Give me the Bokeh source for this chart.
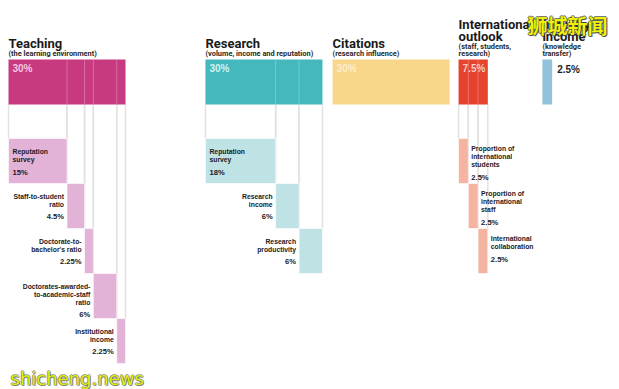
from bokeh.plotting import figure
from bokeh.models import Range1d, ColumnDataSource
from bokeh.core.properties import value
from bokeh.embed import file_html
from bokeh.resources import INLINE

# ---------------- data ----------------
pillars = ["Teaching", "Research", "Citations", "International\noutlook", "Industry\nincome"]
pillar_notes = ["(the learning environment)", "(volume, income and reputation)",
                "(research influence)", "(staff, students,\nresearch)", "(knowledge\ntransfer)"]
pillar_weights = [30, 30, 30, 7.5, 2.5]

teaching_names = ["Reputation\nsurvey", "Staff-to-student\nratio", "Doctorate-to-\nbachelor's ratio",
                  "Doctorates-awarded-\nto-academic-staff\nratio", "Institutional\nincome"]
teaching_weights = [15, 4.5, 2.25, 6, 2.25]
research_names = ["Reputation\nsurvey", "Research\nincome", "Research\nproductivity"]
research_weights = [18, 6, 6]
intl_names = ["Proportion of\ninternational\nstudents", "Proportion of\ninternational\nstaff",
              "International\ncollaboration"]
intl_weights = [2.5, 2.5, 2.5]

sub_names = [teaching_names, research_names, [], intl_names, []]
sub_weights = [teaching_weights, research_weights, [], intl_weights, []]

watermark_cn = "狮城新闻"
watermark_en = "shicheng.news"

# ---------------- layout / style ----------------
W, H = 619, 389
PX = 3.9          # pixels per percentage point
ROW = 45.0        # pixels per row
TOP0 = 59.0       # y of main bar top
col_start = [0, 50.5, 83.1, 115.4, 136.9]
SUB_TOP = (138 - TOP0) / ROW
main_colors = ["#c73a80", "#44b8bd", "#f8d68a", "#e5432d", "#93c3dc"]
sub_colors = ["#e3b2d7", "#bfe2e5", "#f8d68a", "#f4b4a1", "#93c3dc"]
main_label_colors = ["#f6c6e2", "#d3f2f2", "#fcefcf", "#f8c9c0", "#1e1e1e"]
label_side = ["left", "left", None, "right", None]
DARK = "#1c1a24"
TITLEF = "Roboto"
SANS = "Liberation Sans"


def px_x(px):
    return (px - 8) / PX


def px_y(py):
    return (py - TOP0) / ROW


p = figure(width=W, height=H, output_backend="svg", toolbar_location=None,
           x_range=Range1d(px_x(0), px_x(W)), y_range=Range1d(px_y(H), px_y(0)),
           min_border=0)
p.axis.visible = False
p.grid.visible = False
p.outline_line_color = None
p.background_fill_color = "white"
p.border_fill_color = "white"

texts = {}


def put(kind, align, x, y, t, xo, yo, color):
    d = texts.setdefault((kind, align), dict(x=[], y=[], text=[], xo=[], yo=[], color=[]))
    d["x"].append(x); d["y"].append(y); d["text"].append(t)
    d["xo"].append(xo); d["yo"].append(yo); d["color"].append(color)


styles = {
    "title": dict(font=TITLEF, size="13px", style="bold", baseline="alphabetic"),
    "note": dict(font=TITLEF, size="7.4px", style="bold", baseline="alphabetic"),
    "mainpct": dict(font=SANS, size="10px", style="bold", baseline="top"),
    "name": dict(font=SANS, size="6.8px", style="bold", baseline="top"),
    "pct": dict(font=SANS, size="7.6px", style="bold", baseline="top"),
}

g_x, g_y0, g_y1 = [], [], []
in_x = []
ml, mr = [], []
sl, sr, st, sb, sc = [], [], [], [], []
for i, name in enumerate(pillars):
    x0 = col_start[i]
    w = pillar_weights[i]
    ml.append(x0); mr.append(x0 + w)
    notes = pillar_notes[i].split("\n")
    for j, line in enumerate(reversed(notes)):
        put("note", "left", x0, 0, line, 0, -6 - 7 * j, "#2a2a2a")
    base = -6 - 7 * (len(notes) - 1) - 10.5
    tl = name.split("\n")
    for j, line in enumerate(reversed(tl)):
        put("title", "left", x0, 0, line, 0, base - 11.5 * j, "#1a1a1a")
    if w >= 5:
        put("mainpct", "left", x0, 0, f"{w:g}%", 4, 3, main_label_colors[i])
    else:
        put("mainpct", "left", x0 + w, 0, f"{w:g}%", 5, 4, main_label_colors[i])
    cx = x0
    for k, (nm, sw) in enumerate(zip(sub_names[i], sub_weights[i])):
        top = SUB_TOP + k
        sl.append(cx); sr.append(cx + sw); st.append(top); sb.append(top + 1); sc.append(sub_colors[i])
        for gx in (cx, cx + sw):
            g_x.append(gx); g_y0.append(1); g_y1.append(top)
        if k > 0:
            in_x.append(cx)
        side = label_side[i]
        if side == "left" and k == 0:
            ax, xo, al, start = cx, 4, "left", 9.5
        elif side == "left":
            ax, xo, al, start = cx, -3, "right", 9
        else:
            ax, xo, al, start = cx + sw, 3, "left", 6.5
        lines = nm.split("\n")
        for j, line in enumerate(lines):
            put("name", al, ax, top, line, xo, start + 8.2 * j, DARK)
        put("pct", al, ax, top, f"{sw:g}%", xo, start + 8.2 * (len(lines) - 1) + 11.5, DARK)
        cx += sw

p.segment(x0=g_x, y0=g_y0, x1=g_x, y1=g_y1, line_color="#e2e2e2", line_width=1.5)
p.quad(left=ml, right=mr, top=[0] * len(ml), bottom=[1] * len(ml), fill_color=main_colors,
       line_color=None)
p.segment(x0=in_x, y0=[0] * len(in_x), x1=in_x, y1=[1] * len(in_x), line_color="white",
          line_alpha=0.25, line_width=1)
p.quad(left=sl, right=sr, top=st, bottom=sb, fill_color=sc, line_color="white", line_width=0.6)

for (kind, align), d in texts.items():
    s = styles[kind]
    p.text(x="x", y="y", text="text", x_offset="xo", y_offset="yo", text_color="color",
           source=ColumnDataSource(d), text_font=value(s["font"]), text_font_size=s["size"],
           text_font_style=s["style"], text_align=align, text_baseline=s["baseline"])

for dx, dy in [(-1, 0), (1, 0), (0, -1), (0, 1), (1, 1)]:
    p.text(x=[px_x(527)], y=[px_y(10)], text=[watermark_cn], x_offset=dx, y_offset=dy,
           text_color="#3a3a3a", text_alpha=0.7, text_font=value("Noto Sans CJK SC"),
           text_font_size="20px", text_font_style="bold", text_baseline="top")
    p.text(x=[px_x(10)], y=[px_y(378)], text=[watermark_en], x_offset=dx, y_offset=dy,
           text_color="#555555", text_alpha=0.5, text_font=value("DejaVu Sans"),
           text_font_size="18px", text_baseline="alphabetic")
p.text(x=[px_x(527)], y=[px_y(10)], text=[watermark_cn], text_color="#eef20a",
       text_font=value("Noto Sans CJK SC"), text_font_size="20px", text_font_style="bold",
       text_baseline="top")
p.text(x=[px_x(10)], y=[px_y(378)], text=[watermark_en], text_color="#e2f00c",
       text_font=value("DejaVu Sans"), text_font_size="18px", text_baseline="alphabetic")

open("out.html", "w").write(file_html(p, INLINE))
